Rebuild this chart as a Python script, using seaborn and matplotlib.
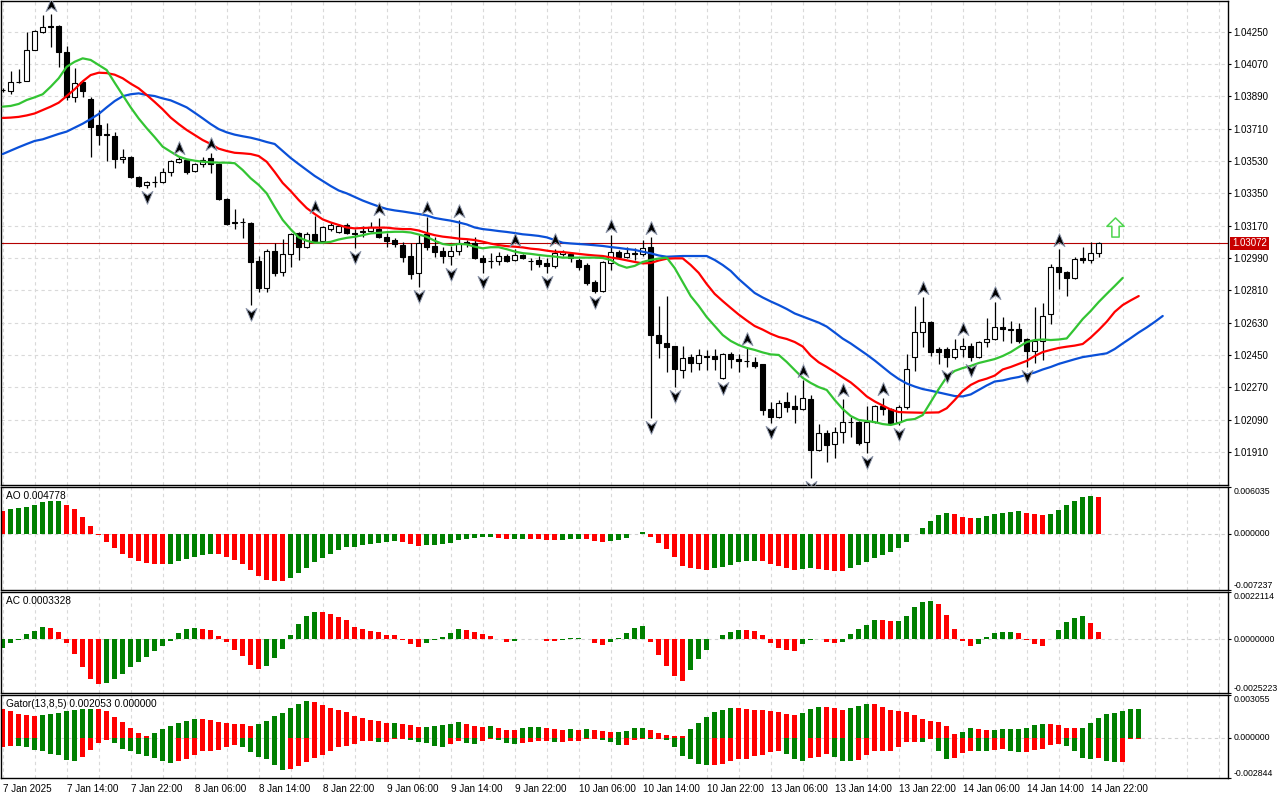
import numpy as np
import pandas as pd
import matplotlib
matplotlib.use("Agg")
import matplotlib.pyplot as plt
import matplotlib.transforms as mtransforms
from matplotlib.path import Path
import seaborn as sns

# EURUSD H1, bars from 7 Jan 06:00 to 14 Jan 23:00
opens = [1.03926, 1.03919, 1.03972, 1.03976, 1.04149, 1.04249, 1.04282, 1.04282, 1.04137, 1.03887,
         1.03970, 1.03876, 1.03731, 1.03681, 1.03670, 1.03539, 1.03553, 1.03441, 1.03394, 1.03414,
         1.03413, 1.03469, 1.03525, 1.03536, 1.03475, 1.03514, 1.03547, 1.03514, 1.03319, 1.03190,
         1.03188, 1.03185, 1.02973, 1.02823, 1.03029, 1.02912, 1.03012, 1.03129, 1.03051, 1.03124,
         1.03085, 1.03152, 1.03135, 1.03174, 1.03129, 1.03135, 1.03140, 1.03152, 1.03107, 1.03090,
         1.03062, 1.03001, 1.02906, 1.03124, 1.03057, 1.03029, 1.03001, 1.03029, 1.03079, 1.03074,
         1.02990, 1.02973, 1.02973, 1.03001, 1.02979, 1.03007, 1.02976, 1.02979, 1.02962, 1.02945,
         1.03012, 1.03012, 1.02979, 1.02951, 1.02856, 1.02806, 1.02962, 1.03023, 1.02996, 1.03015,
         1.03012, 1.03051, 1.02561, 1.02517, 1.02500, 1.02366, 1.02439, 1.02405, 1.02444, 1.02444,
         1.02322, 1.02455, 1.02427, 1.02419, 1.02411, 1.02400, 1.02149, 1.02104, 1.02188, 1.02166,
         1.02149, 1.02204, 1.01921, 1.02015, 1.01954, 1.02021, 1.02077, 1.02077, 1.01965, 1.02077,
         1.02166, 1.02149, 1.02077, 1.02160, 1.02439, 1.02578, 1.02634, 1.02483, 1.02483, 1.02439,
         1.02483, 1.02500, 1.02439, 1.02522, 1.02539, 1.02606, 1.02595, 1.02595, 1.02539, 1.02472,
         1.02528, 1.02678, 1.02940, 1.02912, 1.02879, 1.02990, 1.02979, 1.03018]
highs = [1.03937, 1.04032, 1.04043, 1.04249, 1.04260, 1.04343, 1.04349, 1.04288, 1.04171, 1.04048,
         1.03981, 1.03887, 1.03814, 1.03742, 1.03692, 1.03597, 1.03558, 1.03447, 1.03419, 1.03447,
         1.03491, 1.03536, 1.03553, 1.03541, 1.03519, 1.03553, 1.03575, 1.03519, 1.03324, 1.03263,
         1.03213, 1.03190, 1.03001, 1.03040, 1.03074, 1.03096, 1.03129, 1.03135, 1.03135, 1.03224,
         1.03168, 1.03190, 1.03179, 1.03185, 1.03152, 1.03168, 1.03190, 1.03213, 1.03129, 1.03101,
         1.03079, 1.03074, 1.03118, 1.03218, 1.03107, 1.03051, 1.03057, 1.03202, 1.03090, 1.03107,
         1.03007, 1.03018, 1.03023, 1.03012, 1.03040, 1.03012, 1.02990, 1.03001, 1.02990, 1.03040,
         1.03035, 1.03023, 1.02990, 1.02962, 1.02867, 1.02973, 1.03118, 1.03035, 1.03051, 1.03046,
         1.03090, 1.03107, 1.02723, 1.02778, 1.02500, 1.02500, 1.02455, 1.02483, 1.02478, 1.02483,
         1.02461, 1.02466, 1.02455, 1.02489, 1.02439, 1.02400, 1.02188, 1.02199, 1.02244, 1.02227,
         1.02310, 1.02227, 1.02065, 1.02032, 1.02049, 1.02205, 1.02104, 1.02080, 1.02166, 1.02171,
         1.02210, 1.02154, 1.02171, 1.02455, 1.02723, 1.02773, 1.02640, 1.02494, 1.02494, 1.02539,
         1.02545, 1.02517, 1.02528, 1.02656, 1.02745, 1.02661, 1.02639, 1.02628, 1.02545, 1.02717,
         1.02739, 1.02956, 1.03040, 1.02918, 1.02996, 1.03051, 1.03079, 1.03079]
lows = [1.03915, 1.03903, 1.03965, 1.03976, 1.04149, 1.04243, 1.04165, 1.04054, 1.03870, 1.03859,
        1.03887, 1.03553, 1.03619, 1.03530, 1.03491, 1.03519, 1.03436, 1.03385, 1.03380, 1.03385,
        1.03408, 1.03447, 1.03519, 1.03458, 1.03469, 1.03497, 1.03463, 1.03313, 1.03174, 1.03151,
        1.03101, 1.02728, 1.02801, 1.02801, 1.02890, 1.02890, 1.02940, 1.02979, 1.03046, 1.03079,
        1.03079, 1.03140, 1.03129, 1.03124, 1.03046, 1.03107, 1.03135, 1.03101, 1.03051, 1.03051,
        1.02968, 1.02873, 1.02828, 1.03035, 1.02996, 1.02962, 1.02951, 1.03007, 1.03051, 1.02984,
        1.02906, 1.02934, 1.02951, 1.02968, 1.02973, 1.02984, 1.02923, 1.02940, 1.02906, 1.02934,
        1.03001, 1.02968, 1.02923, 1.02840, 1.02795, 1.02801, 1.02923, 1.02990, 1.02990, 1.02979,
        1.03001, 1.02099, 1.02433, 1.02355, 1.02271, 1.02322, 1.02355, 1.02366, 1.02366, 1.02366,
        1.02316, 1.02377, 1.02355, 1.02383, 1.02377, 1.02115, 1.02071, 1.02099, 1.02132, 1.02071,
        1.02143, 1.01765, 1.01915, 1.01854, 1.01876, 1.01960, 1.01993, 1.01948, 1.01904, 1.02071,
        1.02115, 1.02065, 1.02060, 1.02149, 1.02361, 1.02494, 1.02444, 1.02400, 1.02383, 1.02427,
        1.02439, 1.02416, 1.02433, 1.02494, 1.02533, 1.02528, 1.02517, 1.02517, 1.02383, 1.02405,
        1.02422, 1.02622, 1.02817, 1.02778, 1.02873, 1.02962, 1.02962, 1.02996]
closes = [1.03923, 1.03970, 1.03968, 1.04149, 1.04254, 1.04277, 1.04279, 1.04137, 1.03887, 1.03965,
          1.03920, 1.03720, 1.03675, 1.03675, 1.03541, 1.03553, 1.03441, 1.03391, 1.03413, 1.03412,
          1.03469, 1.03530, 1.03541, 1.03469, 1.03514, 1.03536, 1.03514, 1.03319, 1.03179, 1.03185,
          1.03190, 1.02968, 1.02823, 1.03029, 1.02906, 1.03012, 1.03124, 1.03051, 1.03124, 1.03085,
          1.03163, 1.03174, 1.03168, 1.03129, 1.03126, 1.03140, 1.03163, 1.03107, 1.03085, 1.03068,
          1.02996, 1.02901, 1.03074, 1.03051, 1.03023, 1.03001, 1.03029, 1.03074, 1.03071, 1.02990,
          1.02968, 1.02971, 1.03001, 1.02973, 1.03007, 1.02990, 1.02973, 1.02957, 1.02945, 1.03018,
          1.03023, 1.02990, 1.02940, 1.02851, 1.02806, 1.02968, 1.03023, 1.02996, 1.03018, 1.03018,
          1.03046, 1.02561, 1.02517, 1.02494, 1.02372, 1.02433, 1.02405, 1.02450, 1.02441, 1.02427,
          1.02455, 1.02427, 1.02416, 1.02416, 1.02388, 1.02143, 1.02104, 1.02182, 1.02160, 1.02149,
          1.02210, 1.01921, 1.02015, 1.01948, 1.02021, 1.02077, 1.02074, 1.01960, 1.02077, 1.02166,
          1.02149, 1.02071, 1.02160, 1.02372, 1.02578, 1.02634, 1.02466, 1.02466, 1.02439, 1.02483,
          1.02500, 1.02439, 1.02522, 1.02539, 1.02606, 1.02595, 1.02587, 1.02528, 1.02472, 1.02528,
          1.02667, 1.02940, 1.02912, 1.02879, 1.02984, 1.02979, 1.03018, 1.03072]

# Alligator lines (already shifted forward: lips +3, teeth +5, jaw +8 bars)
lips = [1.03833, 1.03837, 1.03848, 1.03870, 1.03885, 1.03902, 1.03944, 1.03991, 1.04055, 1.04083,
        1.04102, 1.04093, 1.04065, 1.04037, 1.03966, 1.03898, 1.03829, 1.03767, 1.03713, 1.03663,
        1.03610, 1.03582, 1.03555, 1.03540, 1.03532, 1.03526, 1.03523, 1.03521, 1.03521, 1.03518,
        1.03480, 1.03434, 1.03397, 1.03350, 1.03274, 1.03202, 1.03150, 1.03105, 1.03086, 1.03075,
        1.03075, 1.03080, 1.03093, 1.03102, 1.03108, 1.03117, 1.03127, 1.03130, 1.03134, 1.03136,
        1.03136, 1.03132, 1.03121, 1.03108, 1.03086, 1.03068, 1.03062, 1.03068, 1.03066, 1.03053,
        1.03044, 1.03050, 1.03050, 1.03039, 1.03026, 1.03017, 1.03013, 1.03007, 1.03002, 1.02998,
        1.02992, 1.02992, 1.02992, 1.02992, 1.02992, 1.02990, 1.02979, 1.02951, 1.02936, 1.02946,
        1.02968, 1.02979, 1.02987, 1.02992, 1.02934, 1.02856, 1.02778, 1.02723, 1.02661, 1.02611,
        1.02561, 1.02528, 1.02505, 1.02489, 1.02478, 1.02464, 1.02453, 1.02450, 1.02411, 1.02366,
        1.02322, 1.02294, 1.02271, 1.02255, 1.02199, 1.02149, 1.02110, 1.02088, 1.02082, 1.02076,
        1.02065, 1.02060, 1.02071, 1.02088, 1.02093, 1.02115, 1.02188, 1.02260, 1.02327, 1.02361,
        1.02377, 1.02389, 1.02405, 1.02416, 1.02427, 1.02444, 1.02466, 1.02494, 1.02522, 1.02533,
        1.02536, 1.02533, 1.02536, 1.02542, 1.02595, 1.02650, 1.02695, 1.02745, 1.02790, 1.02834,
        1.02879]
teeth = [1.03770, 1.03772, 1.03776, 1.03784, 1.03795, 1.03814, 1.03833, 1.03855, 1.03892, 1.03930,
         1.03974, 1.04009, 1.04022, 1.04020, 1.04011, 1.03991, 1.03961, 1.03935, 1.03898, 1.03859,
         1.03818, 1.03772, 1.03736, 1.03703, 1.03675, 1.03647, 1.03625, 1.03599, 1.03586, 1.03576,
         1.03573, 1.03569, 1.03558, 1.03526, 1.03469, 1.03408, 1.03363, 1.03313, 1.03268, 1.03235,
         1.03205, 1.03188, 1.03174, 1.03160, 1.03155, 1.03157, 1.03159, 1.03159, 1.03159, 1.03154,
         1.03151, 1.03151, 1.03143, 1.03129, 1.03117, 1.03109, 1.03104, 1.03098, 1.03095, 1.03090,
         1.03081, 1.03070, 1.03062, 1.03056, 1.03053, 1.03049, 1.03042, 1.03038, 1.03031, 1.03025,
         1.03023, 1.03018, 1.03013, 1.03008, 1.03004, 1.03001, 1.02993, 1.02986, 1.02977, 1.02968,
         1.02960, 1.02962, 1.02976, 1.02986, 1.02988, 1.02988, 1.02951, 1.02907, 1.02845, 1.02790,
         1.02750, 1.02712, 1.02675, 1.02642, 1.02611, 1.02591, 1.02568, 1.02550, 1.02539, 1.02522,
         1.02497, 1.02446, 1.02409, 1.02383, 1.02355, 1.02325, 1.02297, 1.02260, 1.02219, 1.02191,
         1.02168, 1.02146, 1.02132, 1.02130, 1.02129, 1.02128, 1.02129, 1.02130, 1.02153, 1.02199,
         1.02249, 1.02283, 1.02305, 1.02318, 1.02335, 1.02369, 1.02383, 1.02400, 1.02417, 1.02444,
         1.02466, 1.02478, 1.02489, 1.02496, 1.02502, 1.02511, 1.02547, 1.02589, 1.02635, 1.02690,
         1.02728, 1.02754, 1.02778]
jaw = [1.03569, 1.03588, 1.03607, 1.03625, 1.03642, 1.03651, 1.03666, 1.03681, 1.03694, 1.03716,
       1.03738, 1.03764, 1.03792, 1.03829, 1.03864, 1.03891, 1.03902, 1.03907, 1.03898, 1.03892,
       1.03879, 1.03868, 1.03849, 1.03829, 1.03799, 1.03768, 1.03736, 1.03708, 1.03690, 1.03677,
       1.03668, 1.03660, 1.03649, 1.03636, 1.03625, 1.03586, 1.03547, 1.03513, 1.03480, 1.03447,
       1.03419, 1.03391, 1.03366, 1.03350, 1.03330, 1.03310, 1.03293, 1.03277, 1.03263, 1.03255,
       1.03249, 1.03242, 1.03235, 1.03227, 1.03213, 1.03205, 1.03198, 1.03188, 1.03177, 1.03160,
       1.03151, 1.03146, 1.03140, 1.03135, 1.03129, 1.03122, 1.03118, 1.03113, 1.03105, 1.03090,
       1.03075, 1.03071, 1.03068, 1.03065, 1.03061, 1.03057, 1.03051, 1.03046, 1.03040, 1.03035,
       1.03025, 1.03016, 1.03004, 1.02997, 1.02999, 1.03001, 1.03001, 1.03001, 1.03001, 1.02979,
       1.02951, 1.02918, 1.02873, 1.02834, 1.02795, 1.02770, 1.02748, 1.02728, 1.02706, 1.02681,
       1.02664, 1.02647, 1.02630, 1.02608, 1.02575, 1.02541, 1.02514, 1.02483, 1.02452, 1.02419,
       1.02383, 1.02347, 1.02316, 1.02291, 1.02274, 1.02260, 1.02251, 1.02241, 1.02231, 1.02221,
       1.02219, 1.02230, 1.02255, 1.02280, 1.02302, 1.02308, 1.02319, 1.02327, 1.02340, 1.02352,
       1.02369, 1.02383, 1.02400, 1.02413, 1.02426, 1.02438, 1.02445, 1.02452, 1.02459, 1.02483,
       1.02514, 1.02544, 1.02575, 1.02603, 1.02634, 1.02667]

fractal_up_bars = [6, 22, 26, 39, 47, 53, 57, 64, 69, 76, 81, 93, 100, 105, 110, 115, 120, 124, 132]
fractal_dn_bars = [18, 31, 44, 52, 56, 60, 68, 74, 81, 84, 90, 96, 101, 108, 112, 118, 121, 128]

ao = [0.002964, 0.003136, 0.003308, 0.003480, 0.003652, 0.004038, 0.004167, 0.004210, 0.003738, 0.003222,
      0.002191, 0.001031, -0.000086, -0.000988, -0.001761, -0.002578, -0.003136, -0.003480, -0.003738, -0.003866,
      -0.003888, -0.003860, -0.003480, -0.003222, -0.002921, -0.002706, -0.002578, -0.002599, -0.002921, -0.003308,
      -0.003866, -0.004597, -0.005370, -0.005928, -0.006057, -0.006079, -0.005628, -0.005026, -0.004339, -0.003609,
      -0.003050, -0.002578, -0.002019, -0.001675, -0.001632, -0.001418, -0.001289, -0.001160, -0.000988, -0.000967,
      -0.001010, -0.001289, -0.001547, -0.001418, -0.001396, -0.001289, -0.001117, -0.000730, -0.000644, -0.000473,
      -0.000451, -0.000344, -0.000473, -0.000644, -0.000623, -0.000601, -0.000644, -0.000666, -0.000730, -0.000752,
      -0.000730, -0.000644, -0.000623, -0.000644, -0.000859, -0.000988, -0.000859, -0.000730, -0.000473, -0.000043,
      0.000258, -0.000344, -0.001117, -0.001890, -0.002921, -0.004081, -0.004339, -0.004468, -0.004597, -0.004339,
      -0.004210, -0.003995, -0.003609, -0.003480, -0.003458, -0.003480, -0.003866, -0.004124, -0.004339, -0.004597,
      -0.004468, -0.004446, -0.004468, -0.004597, -0.004726, -0.004747, -0.004339, -0.003995, -0.003609, -0.003050,
      -0.002706, -0.002277, -0.001761, -0.000988, -0.000043, 0.000816, 0.001675, 0.002449, 0.002706, 0.002578,
      0.002191, 0.002062, 0.002084, 0.002320, 0.002578, 0.002706, 0.002835, 0.002964, 0.002706, 0.002578,
      0.002449, 0.002578, 0.003093, 0.003738, 0.004253, 0.004769, 0.004897, 0.004778]
ac = [-0.000428, -0.000194, -0.000037, 0.000244, 0.000400, 0.000572, 0.000525, 0.000353, -0.000162, -0.000678,
      -0.001287, -0.001881, -0.002099, -0.002037, -0.001850, -0.001616, -0.001287, -0.001084, -0.000834, -0.000537,
      -0.000303, -0.000069, 0.000306, 0.000478, 0.000509, 0.000494, 0.000416, 0.000150, -0.000147, -0.000490,
      -0.000787, -0.001209, -0.001381, -0.001256, -0.000881, -0.000444, 0.000197, 0.000712, 0.001087, 0.001275,
      0.001267, 0.001181, 0.001040, 0.000900, 0.000556, 0.000462, 0.000400, 0.000353, 0.000197, 0.000181,
      -0.000037, -0.000209, -0.000366, -0.000178, -0.000037, 0.000087, 0.000291, 0.000478, 0.000416, 0.000337,
      0.000244, 0.000150, -0.000006, -0.000116, -0.000100, -0.000014, 0.000009, 0.000025, -0.000069, -0.000084,
      -0.000022, 0.000041, 0.000056, 0.000009, -0.000162, -0.000272, -0.000116, 0.000041, 0.000291, 0.000509,
      0.000634, -0.000116, -0.000740, -0.001256, -0.001725, -0.001959, -0.001443, -0.000912, -0.000506, -0.000006,
      0.000197, 0.000353, 0.000431, 0.000423, 0.000400, 0.000197, -0.000162, -0.000412, -0.000490, -0.000537,
      -0.000209, -0.000053, 0.000025, -0.000131, -0.000162, -0.000116, 0.000244, 0.000478, 0.000665, 0.000900,
      0.000892, 0.000853, 0.000861, 0.001087, 0.001509, 0.001743, 0.001790, 0.001649, 0.001134, 0.000478,
      -0.000069, -0.000303, -0.000209, 0.000103, 0.000291, 0.000337, 0.000345, 0.000291, -0.000037, -0.000209,
      -0.000303, -0.000006, 0.000431, 0.000806, 0.000993, 0.001087, 0.000759, 0.0003328]
gator_up = [0.002037, 0.001920, 0.001732, 0.001615, 0.001545, 0.001615, 0.001686, 0.001779, 0.001920, 0.002013,
            0.002037, 0.002045, 0.002035, 0.001920, 0.001498, 0.001147, 0.000726, 0.000351, 0.000140, 0.000351,
            0.000655, 0.000866, 0.001077, 0.001217, 0.001381, 0.001334, 0.001264, 0.001124, 0.001030, 0.000983,
            0.000975, 0.000866, 0.000983, 0.001217, 0.001545, 0.001756, 0.002107, 0.002388, 0.002622, 0.002528,
            0.002318, 0.002154, 0.001990, 0.001826, 0.001545, 0.001405, 0.001288, 0.001194, 0.001053, 0.001060,
            0.000983, 0.000913, 0.000773, 0.000780, 0.000843, 0.000913, 0.000983, 0.001124, 0.000983, 0.000843,
            0.000773, 0.000843, 0.000702, 0.000562, 0.000555, 0.000702, 0.000773, 0.000780, 0.000702, 0.000632,
            0.000562, 0.000632, 0.000562, 0.000632, 0.000562, 0.000492, 0.000421, 0.000425, 0.000492, 0.000702,
            0.000705, 0.000562, 0.000351, 0.000211, 0.000140, 0.000135, 0.000632, 0.001053, 0.001475, 0.001826,
            0.001966, 0.002107, 0.002100, 0.002037, 0.001966, 0.001960, 0.001896, 0.001826, 0.001686, 0.001615,
            0.001756, 0.002037, 0.002177, 0.002170, 0.002107, 0.001966, 0.002107, 0.002247, 0.002388, 0.002380,
            0.002177, 0.001966, 0.001896, 0.001826, 0.001615, 0.001334, 0.001194, 0.001124, 0.000843, 0.000281,
            0.000421, 0.000702, 0.000632, 0.000562, 0.000565, 0.000632, 0.000635, 0.000640, 0.000702, 0.000913,
            0.000983, 0.000978, 0.000913, 0.000702, 0.000698, 0.000705, 0.001053, 0.001405, 0.001686, 0.001756,
            0.001896, 0.002037, 0.002053]
gator_dn = [-0.000609, -0.000538, -0.000545, -0.000655, -0.000819, -0.000890, -0.001124, -0.001241, -0.001592, -0.001662,
            -0.001358, -0.000819, -0.000351, -0.000117, -0.000351, -0.000749, -0.000936, -0.001170, -0.001311, -0.001451,
            -0.001662, -0.001756, -0.001662, -0.001522, -0.001241, -0.000960, -0.000890, -0.000819, -0.000655, -0.000492,
            -0.000655, -0.001030, -0.001381, -0.001522, -0.001943, -0.002294, -0.002201, -0.002013, -0.001732, -0.001451,
            -0.001241, -0.000960, -0.000609, -0.000538, -0.000398, -0.000187, -0.000180, -0.000258, -0.000250, -0.000070,
            -0.000060, -0.000140, -0.000258, -0.000351, -0.000538, -0.000609, -0.000421, -0.000187, -0.000351, -0.000421,
            -0.000187, -0.000070, -0.000140, -0.000351, -0.000421, -0.000351, -0.000258, -0.000187, -0.000180, -0.000258,
            -0.000250, -0.000245, -0.000187, -0.000070, -0.000065, -0.000140, -0.000258, -0.000492, -0.000485, -0.000140,
            -0.000070, -0.000075, -0.000060, -0.000140, -0.000609, -0.001311, -0.001475, -0.001826, -0.001943, -0.001896,
            -0.001826, -0.001662, -0.001522, -0.001475, -0.001311, -0.001194, -0.001030, -0.000890, -0.001170, -0.001522,
            -0.001662, -0.001451, -0.001381, -0.001170, -0.001381, -0.001662, -0.001670, -0.001592, -0.001241, -0.000960,
            -0.000955, -0.000890, -0.000609, -0.000258, -0.000255, -0.000262, -0.000070, -0.000890, -0.001522, -0.001451,
            -0.001100, -0.000890, -0.000895, -0.000960, -0.000819, -0.000749, -0.000890, -0.001030, -0.001025, -0.000819,
            -0.000749, -0.000468, -0.000398, -0.000538, -0.000890, -0.001451, -0.001522, -0.001451, -0.001662, -0.001732,
            -0.001730, -0.000060, -0.000060]

time_labels = ["7 Jan 2025", "7 Jan 14:00", "7 Jan 22:00", "8 Jan 06:00", "8 Jan 14:00", "8 Jan 22:00",
               "9 Jan 06:00", "9 Jan 14:00", "9 Jan 22:00", "10 Jan 06:00", "10 Jan 14:00", "10 Jan 22:00",
               "13 Jan 06:00", "13 Jan 14:00", "13 Jan 22:00", "14 Jan 06:00", "14 Jan 14:00", "14 Jan 22:00"]
price_ticks = [1.04250, 1.04070, 1.03890, 1.03710, 1.03530, 1.03350, 1.03170,
               1.02990, 1.02810, 1.02630, 1.02450, 1.02270, 1.02090, 1.01910]
last_price = 1.03072
signal_bar = 139
signal_price = 1.03160

ao_range = (-0.007237, 0.006035)
ac_range = (-0.0025223, 0.0022114)
gator_range = (-0.002844, 0.003055)

GREEN = "#008000"
RED = "#ff0000"
GRID = "#d9d9d9"

sns.set_theme(style="white")
plt.rcParams["font.family"] = ["Liberation Sans", "DejaVu Sans"]


def trend_colors(values, first_green, magnitude=False):
    v = np.abs(values) if magnitude else np.asarray(values)
    rising = np.r_[first_green, v[1:] > v[:-1]]
    return np.where(rising, GREEN, RED)


fig = plt.figure(figsize=(12.8, 8), dpi=100)
W = 1227 / 1280
ax_p = fig.add_axes([1 / 1280, 315 / 800, W, 484 / 800])
ax_ao = fig.add_axes([1 / 1280, 210 / 800, W, 103 / 800])
ax_ac = fig.add_axes([1 / 1280, 107 / 800, W, 101 / 800])
ax_g = fig.add_axes([1 / 1280, 22 / 800, W, 83 / 800])
axes = [ax_p, ax_ao, ax_ac, ax_g]

x_left, x_right = -0.21, 153.16
major_x = list(range(0, 137, 8))
minor_x = [k for k in range(0, 153, 4) if k not in major_x]

for ax in axes:
    ax.set_facecolor("white")
    ax.set_xticks(major_x)
    ax.set_xticks(minor_x, minor=True)
    ax.grid(True, which="both", axis="x", color=GRID, linestyle=(0, (3, 3)), linewidth=0.8)
    ax.set_axisbelow(True)
    ax.tick_params(axis="x", which="both", length=0, labelbottom=False)
    ax.yaxis.tick_right()
    ax.tick_params(axis="y", which="both", direction="out", length=2.5, width=0.8,
                   pad=1.2, labelsize=7.0, colors="black")
    for s in ax.spines.values():
        s.set_color("black")
        s.set_linewidth(1.0)

# ---- price panel ----
o, h, l, c = (np.array(v) for v in (opens, highs, lows, closes))
bars = np.arange(len(o))
bull = c >= o
ax_p.vlines(bars, l, h, color="black", lw=0.9, zorder=3)
ax_p.bar(bars, np.abs(c - o), bottom=np.minimum(o, c), width=0.64,
         color=np.where(bull, "white", "black"), edgecolor="black", linewidth=0.8, zorder=4)

lines = pd.concat([
    pd.DataFrame({"bar": np.arange(len(jaw)), "price": jaw, "line": "Jaw"}),
    pd.DataFrame({"bar": np.arange(len(teeth)), "price": teeth, "line": "Teeth"}),
    pd.DataFrame({"bar": np.arange(len(lips)), "price": lips, "line": "Lips"}),
])
sns.lineplot(data=lines, x="bar", y="price", hue="line", estimator=None, sort=False,
             palette={"Jaw": "#0a50d8", "Teeth": "#ff0000", "Lips": "#33c433"},
             lw=1.6, legend=False, ax=ax_p, zorder=5)
ax_p.set_xlabel("")
ax_p.set_ylabel("")

up_shape = Path([(0, 1), (0.8, -0.9), (0, -0.3), (-0.8, -0.9), (0, 1)],
                [Path.MOVETO, Path.LINETO, Path.LINETO, Path.LINETO, Path.CLOSEPOLY])
dn_shape = Path([(0, -1), (0.8, 0.9), (0, 0.3), (-0.8, 0.9), (0, -1)],
                [Path.MOVETO, Path.LINETO, Path.LINETO, Path.LINETO, Path.CLOSEPOLY])
above = mtransforms.offset_copy(ax_p.transData, fig=fig, x=0, y=9, units="dots")
below = mtransforms.offset_copy(ax_p.transData, fig=fig, x=0, y=-9, units="dots")
ax_p.scatter(fractal_up_bars, h[fractal_up_bars], marker=up_shape, s=95, c="black",
             edgecolors="#8d96aa", linewidths=0.7, transform=above, zorder=6)
ax_p.scatter(fractal_dn_bars, l[fractal_dn_bars], marker=dn_shape, s=95, c="black",
             edgecolors="#8d96aa", linewidths=0.7, transform=below, zorder=6)

arrow_shape = Path([(0, 1), (0.9, 0.12), (0.38, 0.12), (0.38, -1), (-0.38, -1),
                    (-0.38, 0.12), (-0.9, 0.12), (0, 1)],
                   [Path.MOVETO] + [Path.LINETO] * 6 + [Path.CLOSEPOLY])
ax_p.scatter([signal_bar], [signal_price], marker=arrow_shape, s=190, facecolors="white",
             edgecolors="#4fd44f", linewidths=1.1, zorder=6)

ax_p.axhline(last_price, color="#b40000", lw=0.8, zorder=2)
ax_p.annotate(f"{last_price:.5f}", xy=(1, last_price), xycoords=ax_p.get_yaxis_transform(),
              xytext=(3, 0), textcoords="offset points", ha="left", va="center",
              color="white", fontsize=7.0, annotation_clip=False,
              bbox=dict(boxstyle="square,pad=0.18", fc="#c80000", ec="none"))

ax_p.set_yticks(price_ticks)
ax_p.set_yticklabels([f"{v:.5f}" for v in price_ticks])
ax_p.grid(True, axis="y", color=GRID, linestyle=(0, (3, 3)), linewidth=0.8)
ax_p.set_ylim(1.017256, 1.044214)

# ---- oscillators ----
ax_ao.bar(np.arange(len(ao)), ao, width=0.58, color=trend_colors(ao, False), linewidth=0)
ax_ac.bar(np.arange(len(ac)), ac, width=0.58, color=trend_colors(ac, True), linewidth=0)
ax_g.bar(np.arange(len(gator_up)), gator_up, width=0.58,
         color=trend_colors(gator_up, False), linewidth=0)
ax_g.bar(np.arange(len(gator_dn)), gator_dn, width=0.58,
         color=trend_colors(gator_dn, False, magnitude=True), linewidth=0)

panels = [(ax_ao, ao_range, 6, f"AO {ao[-1]:.6f}"),
          (ax_ac, ac_range, 7, f"AC {ac[-1]:.7f}"),
          (ax_g, gator_range, 6, f"Gator(13,8,5) {gator_up[-1]:.6f} 0.000000")]
for ax, (lo, hi), dec, title in panels:
    ax.axhline(0, color="#cfcfcf", linestyle=(0, (3, 3)), lw=0.8, zorder=0)
    ax.set_ylim(lo, hi)
    ax.set_yticks([lo, 0, hi])
    ax.set_yticklabels([f"{lo:.{dec}f}", f"{0:.{dec}f}", f"{hi:.{dec}f}"])
    ax.tick_params(axis="y", labelsize=6.3)
    for tick, va in zip(ax.yaxis.get_major_ticks(), ["bottom", "center", "top"]):
        tick.label2.set_va(va)
    ax.annotate(title, xy=(0, 1), xycoords="axes fraction", xytext=(5, -4),
                textcoords="offset pixels", ha="left", va="top", fontsize=7.3, color="black")

ax_g.tick_params(axis="x", which="major", length=2.5, width=0.8, pad=2,
                 labelbottom=True, labelsize=7.1, colors="black")
ax_g.set_xticklabels(time_labels, ha="left")

for ax in axes:
    ax.set_xlim(x_left, x_right)

fig.savefig("out.png", dpi=100, facecolor="white")
